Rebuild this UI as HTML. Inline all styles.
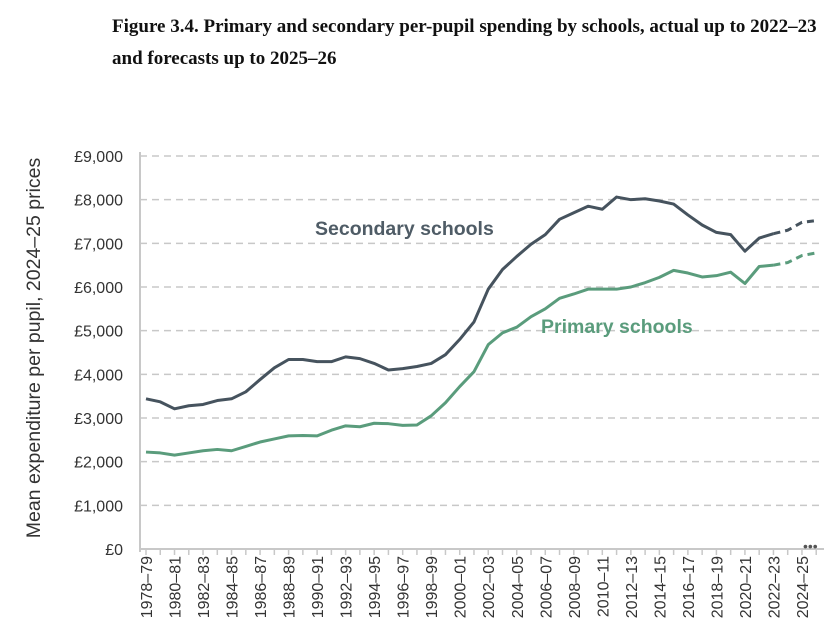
<!DOCTYPE html>
<html><head><meta charset="utf-8"><style>
body{margin:0;background:#fff;width:832px;height:644px;overflow:hidden}
.t{position:absolute;left:112px;font:bold 19px "Liberation Serif",serif;color:#111;white-space:nowrap}
</style></head><body>
<div class="t" style="top:16px">Figure 3.4. Primary and secondary per-pupil spending by schools, actual up to 2022–23</div>
<div class="t" style="top:48px">and forecasts up to 2025–26</div>
<svg id="c" width="832" height="644" style="position:absolute;left:0;top:0"></svg>
<script>
const years=[];for(let y=1978;y<=2025;y++)years.push(y+'–'+String((y+1)%100).padStart(2,'0'));
const secondary=[3440,3370,3210,3280,3310,3400,3440,3600,3880,4150,4340,4340,4290,4290,4400,4360,4250,4100,4130,4180,4250,4450,4800,5200,5950,6400,6700,6980,7200,7550,7700,7850,7780,8060,8000,8020,7970,7900,7650,7420,7250,7200,6820,7120,7220,7300,7480,7520];
const primary=[2220,2200,2150,2200,2250,2280,2250,2350,2450,2520,2590,2600,2590,2720,2820,2800,2880,2870,2830,2840,3050,3350,3720,4060,4680,4950,5080,5320,5500,5740,5840,5950,5950,5950,6000,6100,6220,6380,6320,6230,6260,6340,6080,6470,6500,6560,6720,6780];
const yTicks=[0,1000,2000,3000,4000,5000,6000,7000,8000,9000];
const forecastStart=44;
const NS='http://www.w3.org/2000/svg',svg=document.getElementById('c');
const X0=146,DX=14.26,Y0=549,YT=156;
const xs=i=>X0+i*DX, ys=v=>Y0-(v/9000)*(Y0-YT);
function mk(t,a,p){const e=document.createElementNS(NS,t);for(const k in a)e.setAttribute(k,a[k]);(p||svg).appendChild(e);return e;}
yTicks.forEach(v=>{
  if(v>0){const g=mk('line',{x1:140,x2:822,y1:ys(v),y2:ys(v),stroke:'#c8c8c8','stroke-width':1.5,'stroke-dasharray':'7,5'});
  
  }
  const t=mk('text',{x:123,y:ys(v)+6,'text-anchor':'end','font-family':'Liberation Sans, sans-serif','font-size':16,fill:'#333'});
  t.textContent='£'+v.toLocaleString('en-GB');
  
  
});
const ax=mk('line',{x1:140,x2:140,y1:152,y2:552,stroke:'#c8c8c8','stroke-width':2});


const bx=mk('line',{x1:140,x2:824,y1:Y0,y2:Y0,stroke:'#c8c8c8','stroke-width':2});


years.forEach((y,i)=>{
  const tk=mk('line',{x1:xs(i),x2:xs(i),y1:Y0,y2:Y0+6,stroke:'#c8c8c8','stroke-width':1.5});
  
  
  if(i%2===0){const t=mk('text',{x:0,y:0,transform:`translate(${xs(i)+6},556) rotate(-90)`,'text-anchor':'end','font-family':'Liberation Sans, sans-serif','font-size':16,fill:'#333'});
  t.textContent=y;
  
  }
});
function series(vals,color,name){
  const a=vals.slice(0,forecastStart+1).map((v,i)=>xs(i)+','+ys(v)).join(' ');
  const b=vals.slice(forecastStart).map((v,i)=>xs(i+forecastStart)+','+ys(v)).join(' ');
  const l=mk('polyline',{points:a,fill:'none',stroke:color,'stroke-width':3,'stroke-linejoin':'round'});
  
  
  const f=mk('polyline',{points:b,fill:'none',stroke:color,'stroke-width':3,'stroke-dasharray':'7,5'});
  
  
}
series(secondary,'#46535e','secondary');
series(primary,'#5a9c7c','primary');
function lab(txt,x,y,c,n){const t=mk('text',{x:x,y:y,'font-family':'Liberation Sans, sans-serif','font-size':19.5,'font-weight':'bold',fill:c});t.textContent=txt;

}
lab('Secondary schools',315,235,'#4f5c66','secondary-label');
lab('Primary schools',541,333,'#5a9c7c','primary-label');
const d=mk('text',{x:803,y:551,'font-family':'Liberation Sans, sans-serif','font-size':14,fill:'#555'});d.textContent='•••';


const yt=mk('text',{x:0,y:0,transform:'translate(40,348) rotate(-90)','text-anchor':'middle','font-family':'Liberation Sans, sans-serif','font-size':19.5,fill:'#333'});
yt.textContent='Mean expenditure per pupil, 2024–25 prices';


</script>
</body></html>
